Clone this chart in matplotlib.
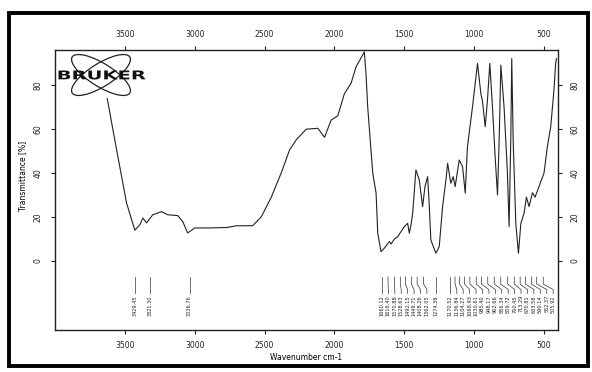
import matplotlib
matplotlib.use("Agg")
import matplotlib.pyplot as plt
from matplotlib.patches import Ellipse, Rectangle, PathPatch
from matplotlib.textpath import TextPath
from matplotlib.font_manager import FontProperties
from matplotlib.transforms import Affine2D
import numpy as np

# ---- data ----
wavenumber = [3631, 3559, 3488, 3429, 3393, 3371, 3345, 3300, 3238, 3193, 3121, 3086,
              3050, 3000, 2900, 2771, 2700, 2586, 2524, 2452, 2381, 2321, 2274, 2202,
              2119, 2071, 2024, 1976, 1929, 1881, 1845, 1786, 1774, 1762, 1726, 1702,
              1690, 1667, 1643, 1607, 1595, 1571, 1548, 1524, 1500, 1476, 1464, 1452,
              1440, 1417, 1393, 1369, 1352, 1333, 1321, 1310, 1274, 1250, 1226, 1202,
              1190, 1167, 1150, 1136, 1107, 1083, 1064, 1048, 1012, 976, 952, 940,
              921, 905, 888, 869, 850, 833, 821, 809, 786, 762, 750, 738, 731, 721,
              702, 683, 666, 643, 626, 607, 583, 564, 536, 500, 476, 452, 429, 417, 411]
transmittance = [75.5, 50.5, 26.4, 14.0, 16.4, 19.5, 17.3, 21.0, 22.4, 21.0, 20.6, 17.9,
                 12.7, 15.0, 15.0, 15.2, 16.0, 16.0, 20.0, 29.0, 40.0, 50.5, 55.0, 59.9,
                 60.3, 56.2, 64.0, 66.0, 76.0, 80.8, 88.3, 95.0, 85.0, 70.0, 40.0, 30.8,
                 12.6, 4.2, 5.8, 8.8, 7.7, 9.9, 11.0, 13.3, 15.6, 17.1, 12.6, 16.4,
                 21.7, 41.4, 36.8, 24.7, 33.8, 38.3, 24.7, 9.5, 3.5, 6.5, 24.7, 36.8,
                 44.4, 35.3, 38.3, 33.8, 45.9, 42.9, 30.8, 52.0, 70.0, 89.8, 76.0, 72.4,
                 61.0, 73.0, 89.8, 70.0, 47.4, 30.0, 55.0, 89.0, 70.0, 40.0, 15.6, 55.0, 92.0, 55.0,
                 17.0, 3.5, 17.0, 21.7, 29.0, 24.7, 31.0, 29.0, 33.8, 40.0, 52.0, 61.0, 77.7, 89.8, 92.0]

peaks_left = [3429.45, 3321.30, 3036.76]
peaks_right = [1660.12, 1616.40, 1570.88, 1528.63, 1492.15, 1449.71, 1408.26, 1362.05,
               1274.38, 1170.52, 1136.84, 1104.27, 1068.93, 1030.61, 985.40, 948.17,
               902.66, 856.34, 809.72, 760.45, 713.29, 670.81, 633.58, 590.14, 552.37, 505.92]

x_ticks = [3500, 3000, 2500, 2000, 1500, 1000, 500]
y_ticks = [0, 20, 40, 60, 80]
logo_text = "BRUKER"

W, H = 592, 372
fig = plt.figure(figsize=(W / 100, H / 100), dpi=100)
fig.patch.set_facecolor("white")

# outer frame
fig.patches.append(Rectangle((9 / W, 1 - 366 / H), 579 / W, 353 / H, transform=fig.transFigure,
                             fill=False, edgecolor="black", linewidth=2.8))

L, R, T, B = 55, 558, 50, 330
ax = fig.add_axes([L / W, 1 - B / H, (R - L) / W, (B - T) / H])
ax.plot(wavenumber, transmittance, color="#222222", linewidth=0.8)
ax.set_xlim(4000, 400)
ax.set_ylim(-31.4, 95.9)

fs = 5.5
ax.set_xticks(x_ticks)
ax.set_xticklabels([str(v) for v in x_ticks], fontsize=fs)
ax.set_yticks(y_ticks)
ax.set_yticklabels([str(v) for v in y_ticks], fontsize=fs, rotation=90, va="center")
ax.tick_params(axis="both", length=3, width=0.8, pad=6, colors="#222222")
ax.tick_params(axis="x", top=True, labeltop=True, pad=5)
ax.tick_params(axis="y", right=True, labelright=True)
for lab in ax.get_yticklabels(which="both"):
    lab.set_rotation(90)
for s in ax.spines.values():
    s.set_linewidth(1.0)
    s.set_color("#222222")
ax.set_xlabel("Wavenumber cm-1", fontsize=fs, labelpad=2)
ax.set_ylabel("Transmittance [%]", fontsize=fs, labelpad=4)
ax.yaxis.set_label_coords(-0.055, 0.55)

# peak annotations
def draw_peaks(peaks, gap):
    lp = []
    for i, p in enumerate(peaks):
        pos = p if i == 0 else min(p, lp[-1] - gap)
        lp.append(pos)
    for p, q in zip(peaks, lp):
        ax.plot([p, p, q, q], [-7.3, -10.5, -13.0, -14.8], color="#333333", linewidth=0.5)
        ax.text(q, -15.5, f"{p:.2f}", rotation=90, fontsize=3.6, ha="center", va="top",
                color="#222222")

draw_peaks(peaks_left, 40)
draw_peaks(peaks_right, 46)

# Bruker logo (pixel-like coordinates inside a small overlay axes)
lax = fig.add_axes([57 / W, 1 - 98 / H, 91 / W, 46 / H])
lax.set_xlim(0, 91)
lax.set_ylim(46, 0)
lax.axis("off")
lax.add_patch(Rectangle((0.5, 0), 90.5, 46, facecolor="white", edgecolor="none"))
for ang in (32, -32):
    lax.add_patch(Ellipse((44, 23), 68, 23, angle=ang, fill=False, edgecolor="#222222",
                          linewidth=0.9))
tp = TextPath((0, 0), logo_text, size=10,
              prop=FontProperties(family="DejaVu Sans", weight="bold"))
bb = tp.get_extents()
sx, sy = 87.0 / bb.width, 9.0 / bb.height
tr = Affine2D().translate(-bb.x0, -bb.y0).scale(sx, -sy).translate(1.5, 23 + 4.5)
lax.add_patch(PathPatch(tr.transform_path(tp), facecolor="#111111", edgecolor="none"))

fig.savefig("out.png", dpi=100, facecolor="white")
